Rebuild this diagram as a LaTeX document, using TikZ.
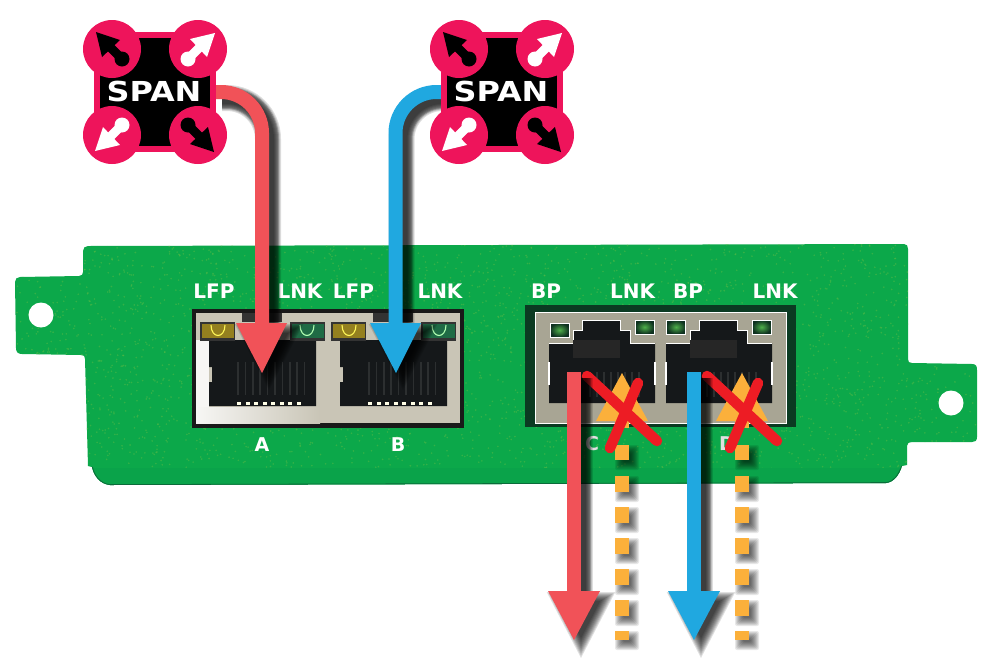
\documentclass[tikz,border=0pt]{standalone}
\usepackage{fontspec}
\setmainfont{DejaVu Sans}
\usetikzlibrary{calc}
\definecolor{pcb}{HTML}{0CA84A}
\definecolor{pcblight}{HTML}{5DBB46}
\definecolor{pcbfold}{HTML}{0AA34A}
\definecolor{pcbdark}{HTML}{0B6B3A}
\definecolor{winedge}{HTML}{0B3A22}
\definecolor{spanpink}{HTML}{EE145B}
\definecolor{arrowred}{HTML}{F15258}
\definecolor{arrowblue}{HTML}{20A8E0}
\definecolor{dashorange}{HTML}{FBB03B}
\definecolor{crossred}{HTML}{ED1C24}
\definecolor{metal}{HTML}{C9C5B6}
\definecolor{metalb}{HTML}{A8A594}
\definecolor{portblack}{HTML}{15181A}
\definecolor{pinline}{HTML}{2C2F30}
\definecolor{ledyellow}{HTML}{94801F}
\definecolor{ledgreen}{HTML}{1F6B45}
\definecolor{ledglow}{HTML}{4FB04A}
\tikzset{
 x=1pt,y=-1pt,
 paneltext/.style={text=white,font=\bfseries\fontsize{20}{20}\selectfont,inner sep=0pt},
 portlabel/.style={text=white,font=\bfseries\fontsize{19}{19}\selectfont,inner sep=0pt},
 faintlabel/.style={text=white!88!black,font=\bfseries\fontsize{19}{19}\selectfont,inner sep=0pt},
 spantext/.style={text=white,font=\bfseries\fontsize{27.5}{27.5}\selectfont,inner sep=0pt},
 pinkdisc/.style={circle,fill=spanpink,minimum size=58pt,inner sep=0pt},
 connector/.style={line width=14pt},
}
% soft shadow of a thick line #1 (path), offset down-right
\newcommand{\softline}[1]{%
 \foreach \w in {12,14,16,18,20,20,22,22,24,26}{%
  \draw[black,opacity=.13,line width=\w pt,rounded corners=41pt,transform canvas={shift={(6,6)}}] #1;}}
% soft shadow of an arrow head: tip x #1, top y #2 (width 52, height 50)
\newcommand{\softhead}[2]{%
 \foreach \d in {-4,-3,...,5}{%
  \pgfmathsetmacro{\sc}{1+\d/15.6}
  \fill[black,opacity=.12,shift={(7,6)},scale around={\sc:(#1,#2+15.6)}] (#1-26,#2) -- (#1+26,#2) -- (#1,#2+50) -- cycle;}}
% soft shadow of a square dash: centre x #1, top y #2, height #3
\newcommand{\softdot}[3]{%
 \foreach \g in {-3,-2,...,5}{%
  \fill[black,opacity=.09,shift={(5,5)},rounded corners=2pt] (#1-7-\g,#2-\g) rectangle (#1+7+\g,#2+#3+\g);}}
% SPAN badge at centre #1, name #2
\newcommand{\spanbadge}[2]{%
 \begin{scope}[shift={(#1)}]
 \node[draw=spanpink,line width=6pt,fill=black,minimum width=116pt,minimum height=114pt,inner sep=0pt] (#2) at (0,0) {};
 \node[pinkdisc] (#2nw) at (-43,-43) {};
 \node[pinkdisc] (#2ne) at (43,-43) {};
 \node[pinkdisc] (#2sw) at (-43,43) {};
 \node[pinkdisc] (#2se) at (43,43) {};
 \foreach \ang/\col in {0/white,90/black,180/white,270/black}{
  \begin{scope}[rotate around={\ang:(0,0)}]
   \fill[\col] (33,-33) circle (7.5);
   \draw[\col,line width=9pt] (33,-33) -- (45,-45);
   \fill[\col] (60,-59) -- (35,-53) -- (52,-35) -- cycle;
  \end{scope}}
 \node[spantext] (#2t) at (-1,-1) {\scalebox{1.16}[1]{SPAN}};
 \end{scope}}
\begin{document}
\begin{tikzpicture}
\useasboundingbox (0,0) rectangle (1000,659);
\fill[white] (0,0) rectangle (1000,659);
% --- panel ---
\def\panelpath{(88,246) -- (904,244) .. controls (907,244) and (908,246) .. (908,249)
 -- (908,359) .. controls (908,362) and (909,363) .. (912,363)
 -- (972,364) .. controls (976,364) and (977,366) .. (977,370)
 -- (977,437) .. controls (977,441) and (975,442) .. (972,442)
 -- (912,442) .. controls (909,442) and (907,443) .. (907,446)
 -- (907,465) -- (902,466) .. controls (899,475) and (894,482) .. (886,483)
 -- (110,485) .. controls (100,484) and (94,476) .. (92,467)
 -- (88,466) -- (85,359) .. controls (85,356) and (84,355) .. (81,355)
 -- (22,354) .. controls (18,354) and (16,352) .. (16,348)
 -- (15,282) .. controls (15,279) and (17,277) .. (20,277)
 -- (79,276) .. controls (82,276) and (83,274) .. (83,272)
 -- (83,251) .. controls (83,248) and (85,246) .. (88,246) -- cycle}
\path[fill=pcb] \panelpath;
\begin{scope}
 \clip \panelpath;
 \pgfmathsetseed{11}
 \foreach \i in {1,...,3200}{
  \pgfmathsetmacro{\px}{15+rnd*965}
  \pgfmathsetmacro{\py}{244+rnd*225}
  \fill[pcblight,opacity=.5] (\px,\py) circle (.9);
 }
 \fill[pcbfold] (80,468) rectangle (915,490);
 \draw[pcbdark,line width=1.6pt] (92,467) .. controls (94,476) and (100,484) .. (110,485) -- (886,483) .. controls (894,482) and (899,475) .. (902,466);
\end{scope}
\fill[white] (41,315) circle (12.5);
\fill[white] (951,403) circle (12.5);
% --- left ports ---
\node[fill=black!90,minimum width=272pt,minimum height=119pt,inner sep=0pt] (leftwin) at (328,368.5) {};
\node[fill=metal,minimum width=264pt,minimum height=110pt,inner sep=0pt] (leftshell) at (328,368) {};
\fill[white!85!metal] (196,340) rectangle (209,423);
\shade[left color=white!85!metal,right color=metal] (196,407) rectangle (320,423);
\foreach \xx in {0,131}{
 \begin{scope}[shift={(\xx,0)}]
  \fill[portblack] (209,340) -- (316,340) -- (316,406) -- (209,406) -- (209,382) -- (212,382) -- (212,367) -- (209,367) -- cycle;
  \foreach \k in {0,...,9}{\draw[pinline,line width=1.6pt] (238+\k*7.4,362) -- (238+\k*7.4,395);}
  \foreach \k in {0,...,7}{\fill[white!90!yellow] (237+\k*8.5,402) rectangle ++(4,2.6);}
 \end{scope}}
\foreach \bx in {242,373}{\fill[black!80] (\bx,313) rectangle ++(40,9);}
\foreach \bx/\col in {200/ledyellow,331/ledyellow,290/ledgreen,421/ledgreen}{
 \fill[black!80] (\bx,322) rectangle ++(35,19);
 \fill[\col] (\bx+1.5,323.5) rectangle ++(32,14);
}
\foreach \cx/\col in {218/yellow!65,349/yellow!65,307/green!30,439/green!30}{
 \draw[\col,line width=1.1pt] (\cx-7,325) .. controls (\cx-7,339) and (\cx+7,339) .. (\cx+7,325);
}
% --- right ports ---
\node[fill=winedge,minimum width=271pt,minimum height=122pt,inner sep=0pt] (rightwin) at (660.5,366) {};
\node[fill=metalb,draw=white!85,line width=.8pt,minimum width=251pt,minimum height=111pt,inner sep=0pt] (rightshell) at (660.5,367.5) {};
\foreach \xx in {0,117}{
 \begin{scope}[shift={(\xx,0)}]
  \path[fill=portblack] (549,343) -- (573,343) -- (573,330) -- (582,330) -- (582,320) -- (620,320) -- (620,330) -- (630,330) -- (630,343) -- (655,343) -- (655,403) -- (549,403) -- cycle;
  \draw[white!75,line width=.8pt] (549,343) -- (573,343) -- (573,330) -- (582,330) -- (582,320) -- (620,320) -- (620,330) -- (630,330) -- (630,343) -- (655,343);
  \fill[black!85!white] (573,340) rectangle (620,358);
  \draw[white!80,line width=2pt] (549,362) -- (549,385) (655,362) -- (655,385);
  \foreach \k in {0,...,7}{\draw[pinline,line width=1.4pt] (590+\k*7,372) -- (590+\k*7,397);}
 \end{scope}}
\foreach \cx/\cy in {559.5/330,644.5/327,676/327,761.5/327}{
 \node[draw=white!75,line width=.8pt,minimum width=19pt,minimum height=14pt,inner sep=0pt,inner color=ledglow,outer color=ledgreen!45!black] at (\cx,\cy) {};
}
% --- panel labels ---
\foreach \nm/\tx/\cx in {lfpa/LFP/214,lnka/LNK/300,lfpb/LFP/353.5,lnkb/LNK/440,bpc/BP/546,lnkc/LNK/632.5,bpd/BP/688,lnkd/LNK/775}{
 \node[paneltext] (\nm) at (\cx,291) {\tx};}
\node[portlabel] (porta) at (262,445) {A};
\node[portlabel] (portb) at (398,445) {B};
\node[faintlabel] (portc) at (592,444) {C};
\node[faintlabel] (portd) at (727,444) {D};
% --- anchors of the connectors ---
\node[minimum width=116pt,minimum height=114pt,inner sep=0pt,outer sep=3pt] (spanaanchor) at (155,92) {};
\node[minimum width=116pt,minimum height=114pt,inner sep=0pt,outer sep=3pt] (spanbanchor) at (502,92) {};
\coordinate (redend) at (262,325);
\coordinate (blueend) at (395.5,325);
\coordinate (redstart) at (574,372);
\coordinate (redfoot) at (574,593);
\coordinate (bluestart) at (694,372);
\coordinate (bluefoot) at (694,593);
% --- orange stubs (under the crosses) ---
\foreach \dx in {622,742}{
 \foreach \yy/\hh in {445/15,476/16,507/16,538/16,569/16,600/16,631/9}{
  \softdot{\dx}{\yy}{\hh}
 }
}
\foreach \dx in {622,742}{
 \fill[dashorange] (\dx-26,421) -- (\dx,373) -- (\dx+26,421) -- cycle;
 \fill[dashorange] (\dx-7,420) rectangle (\dx+7,428);
 \foreach \yy/\hh in {445/15,476/16,507/16,538/16,569/16,600/16,631/9}{
  \fill[dashorange] (\dx-7,\yy) rectangle ++(14,\hh);
 }
}
% --- crosses ---
\foreach \dx in {0,120}{
 \draw[crossred,line width=10.5pt,line cap=round] (587+\dx,376) -- (657+\dx,441);
 \draw[crossred,line width=10.5pt,line cap=round] (638+\dx,383) -- (610+\dx,448);
}
% --- shadows of the arrows ---
\softline{(spanaanchor.east) -- (spanaanchor.east -| redend) -- (redend)}
\softline{(spanbanchor.west) -- (spanbanchor.west -| blueend) -- (blueend)}
\softline{(redstart) -- (redfoot)}
\softline{(bluestart) -- (bluefoot)}
\softhead{262}{323}
\softhead{396}{323}
\softhead{574}{591}
\softhead{694}{591}
% --- main arrows ---
\draw[arrowred,connector,rounded corners=41pt] (spanaanchor.east) -- (spanaanchor.east -| redend) -- (redend);
\fill[arrowred] (236,323) -- (287,323) -- (262,373) -- cycle;
\draw[arrowblue,connector,rounded corners=41pt] (spanbanchor.west) -- (spanbanchor.west -| blueend) -- (blueend);
\fill[arrowblue] (370,323) -- (421,323) -- (396,373) -- cycle;
\draw[arrowred,connector] (redstart) -- (redfoot);
\fill[arrowred] (548,591) -- (600,591) -- (574,640) -- cycle;
\draw[arrowblue,connector] (bluestart) -- (bluefoot);
\fill[arrowblue] (668,591) -- (720,591) -- (694,640) -- cycle;
% --- SPAN badges ---
\spanbadge{155,92}{spana}
\spanbadge{502,92}{spanb}
\end{tikzpicture}
\end{document}
